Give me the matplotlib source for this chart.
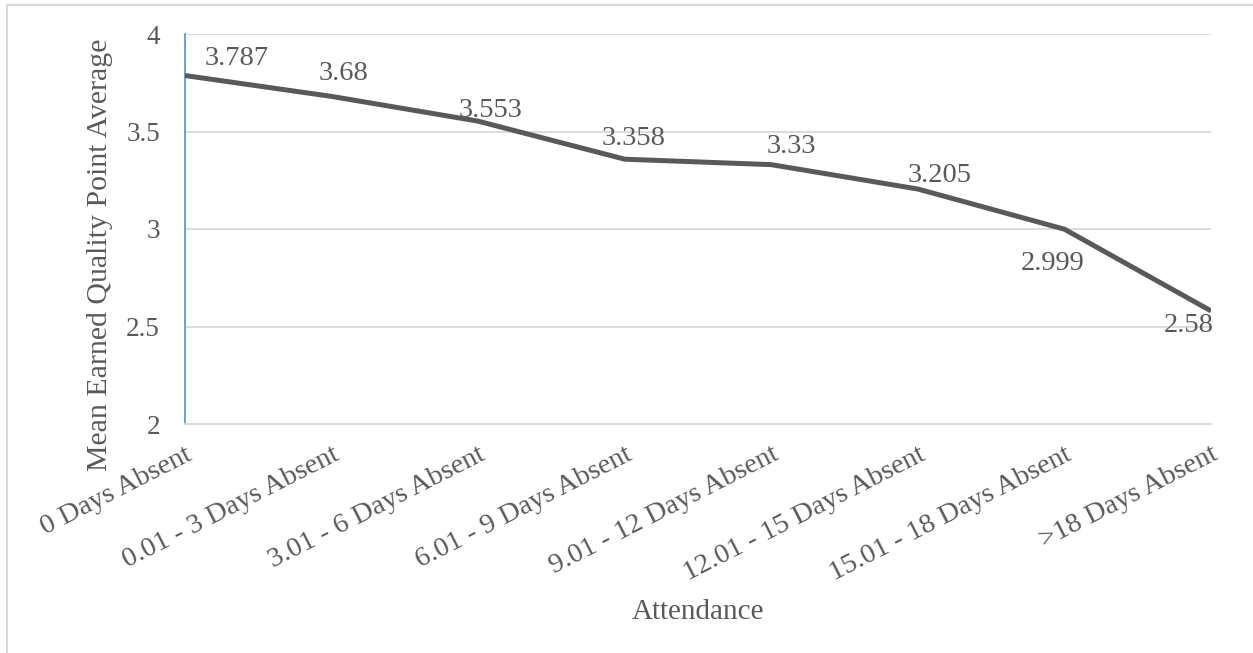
import matplotlib
matplotlib.use("Agg")
import matplotlib.pyplot as plt
from matplotlib.lines import Line2D

categories = ["0 Days Absent", "0.01 - 3 Days Absent", "3.01 - 6 Days Absent",
              "6.01 - 9 Days Absent", "9.01 - 12 Days Absent", "12.01 - 15 Days Absent",
              "15.01 - 18 Days Absent", ">18 Days Absent"]
values = [3.787, 3.68, 3.553, 3.358, 3.33, 3.205, 2.999, 2.58]
value_labels = ["3.787", "3.68", "3.553", "3.358", "3.33", "3.205", "2.999", "2.58"]
y_ticks = [2, 2.5, 3, 3.5, 4]
y_tick_labels = ["2", "2.5", "3", "3.5", "4"]

# label offsets in pixels (dx, dy) -- styling only
label_offsets = [(52, 11), (12, 16), (12, 4), (9, 14), (20, 12), (22, 7), (-12, -41), (-22, -21)]

plt.rcParams['font.family'] = ['Liberation Serif', 'DejaVu Serif']
TXT = "#595959"

fig = plt.figure(figsize=(12.53, 6.53), dpi=100)
ax = fig.add_axes([185/1253, 1-424/653, (1211-185)/1253, (424-34)/653])

x = list(range(len(categories)))
ax.plot(x, values, color="#595959", lw=3.6, solid_joinstyle="round", solid_capstyle="butt", zorder=3)

for xi, v, lab, (dx, dy) in zip(x, values, value_labels, label_offsets):
    ax.annotate(lab, (xi, v), xytext=(dx * 0.72, dy * 0.72), textcoords="offset points",
                ha="center", va="baseline", fontsize=20.5, color=TXT, zorder=4)

ax.set_xlim(0, len(categories) - 1)
ax.set_ylim(2, 4)
ax.set_yticks(y_ticks)
ax.set_yticklabels(y_tick_labels)
ax.set_xticks(x)
ax.set_xticklabels(categories, rotation=27, ha="right", va="top", rotation_mode="anchor")
ax.tick_params(axis="y", length=0, labelsize=19.5, labelcolor=TXT, pad=18)
ax.tick_params(axis="x", length=0, labelsize=20.5, labelcolor=TXT, pad=13)
ax.grid(axis="y", color="#d9d9d9", lw=1.3)
ax.set_axisbelow(True)
for s in ["top", "right"]:
    ax.spines[s].set_visible(False)
ax.spines["left"].set_color("#5b9bd5")
ax.spines["left"].set_linewidth(1.3)
ax.spines["bottom"].set_color("#d9d9d9")
ax.spines["bottom"].set_linewidth(1.3)

fig.text(100/1253, 1 - 255/653, "Mean Earned Quality Point Average", rotation=90,
         ha="center", va="center", fontsize=21.5, color=TXT)
fig.text(698/1253, 1 - 612/653, "Attendance", ha="center", va="center", fontsize=21, color=TXT)

# chart area border (left and top visible)
fig.add_artist(Line2D([7/1253, 7/1253], [0, 1 - 5/653], transform=fig.transFigure, color="#d9d9d9", lw=1.5))
fig.add_artist(Line2D([7/1253, 1], [1 - 5/653, 1 - 5/653], transform=fig.transFigure, color="#d9d9d9", lw=1.5))

fig.savefig("out.png", dpi=100)
